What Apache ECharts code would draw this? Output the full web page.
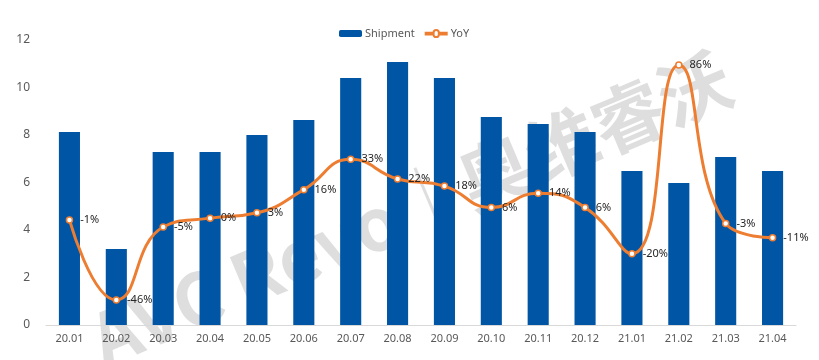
<!DOCTYPE html>
<html><head><meta charset="utf-8">
<script src="https://cdn.jsdelivr.net/npm/echarts@6/dist/echarts.min.js"></script>
<style>html,body{margin:0;padding:0;background:#fff}#c{width:819px;height:360px}</style>
</head><body><div id="c"></div>
<script>
const categories = ['20.01','20.02','20.03','20.04','20.05','20.06','20.07','20.08','20.09','20.10','20.11','20.12','21.01','21.02','21.03','21.04'];
const shipment = [8.13,3.2,7.28,7.28,8.0,8.63,10.4,11.07,10.4,8.76,8.46,8.13,6.48,5.98,7.07,6.48];
const yoy = [-1,-46,-5,0,3,16,33,22,18,6,14,6,-20,86,-3,-11];
const yTicks = [0,2,4,6,8,10,12];

const chart = echarts.init(document.getElementById('c'));
chart.setOption({
  backgroundColor:'#fff',
  animation:false,
  textStyle:{fontFamily:'"Noto Sans", sans-serif'},
  graphic:[{
    type:'text', z:-10, rotation:Math.PI*23/180,
    x:80, y:310,
    style:{text:'AVC Revo\u2502奥维睿沃', fill:'rgba(200,200,200,0.6)', font:'bold 72px "Noto Sans CJK SC", sans-serif'}
  }],
  legend:{top:23, left:334, itemWidth:23, itemHeight:7, itemGap:10,
    textStyle:{color:'#595959', fontSize:11, padding:[0,0,0,-2]},
    data:[{name:'Shipment'},{name:'YoY', icon:'path://M0,3H9A3,3 0 1,1 15,3H24V5H15A3,3 0 1,1 9,5H0Z'}]},
  grid:{left:46, right:23, top:40, bottom:35},
  xAxis:{type:'category', data:categories,
    axisLine:{lineStyle:{color:'#d9d9d9'}}, axisTick:{show:false},
    axisLabel:{color:'#595959', fontSize:11, margin:8}},
  yAxis:[{type:'value', min:0, max:12, interval:2,
    axisLabel:{color:'#595959', fontSize:12, margin:16},
    splitLine:{show:false}, axisLine:{show:false}, axisTick:{show:false}},
    {type:'value', min:-60, max:100, show:false, splitLine:{show:false}}],
  series:[
    {name:'Shipment', type:'bar', data:shipment, barWidth:'45%', itemStyle:{color:'#0055A5'}, z:2},
    {name:'YoY', type:'line', yAxisIndex:1, data:yoy, smooth:0.5, z:3,
      symbol:'circle', symbolSize:6,
      lineStyle:{color:'#ED7D31', width:3},
      itemStyle:{color:'#fff', borderColor:'#ED7D31', borderWidth:1.5},
      label:{show:true, position:'right', distance:7, color:'#262626', fontSize:11,
        formatter:p=>p.value+'%'}}
  ]
});
</script></body></html>
